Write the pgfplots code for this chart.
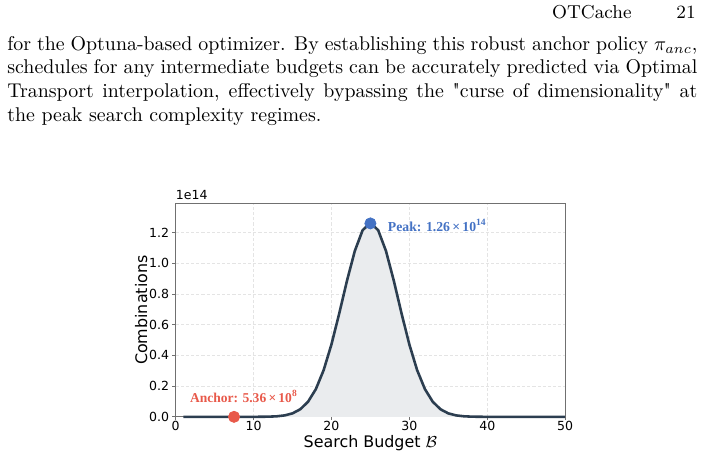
\documentclass[border=0pt]{standalone}
\usepackage{fontspec}
\usepackage{pgfplots}
\usepackage{pgfplotstable}
\pgfplotsset{compat=1.18}
\newfontfamily\dejavu{DejaVu Sans}
\newfontfamily\libserif{Liberation Serif}
% straight double quote, taken as a glyph so the TeX mapping leaves it alone
\newcommand{\sq}{{\XeTeXglyph\XeTeXcharglyph"22\relax}}

\definecolor{curve}{HTML}{2C3E50}
\definecolor{areafill}{HTML}{EAECEE}
\definecolor{peakblue}{HTML}{4472C4}
\definecolor{anchorred}{HTML}{E8594A}
\definecolor{spine}{HTML}{707070}
\definecolor{gridc}{HTML}{E4E4E4}

% number of combinations C(50,B) per search budget B
\pgfplotstableread{
B comb
1 5.0e1
2 1.225e3
3 1.96e4
4 2.303e5
5 2.11876e6
6 1.58907e7
7 9.98844e7
8 5.3687865e8
9 2.5054337e9
10 1.027227817e10
11 3.73537388e10
12 1.213996511e11
13 3.548605186e11
14 9.378456563e11
15 2.25082957512e12
16 4.923689695575e12
17 9.84737939115e12
18 1.8053528883775e13
19 3.04059433832e13
20 4.712921224396e13
21 6.73274460628e13
22 8.87498152646e13
23 1.080432533656e14
24 1.215486600363e14
25 1.26410606437752e14
26 1.215486600363e14
27 1.080432533656e14
28 8.87498152646e13
29 6.73274460628e13
30 4.712921224396e13
31 3.04059433832e13
32 1.8053528883775e13
33 9.84737939115e12
34 4.923689695575e12
35 2.25082957512e12
36 9.378456563e11
37 3.548605186e11
38 1.213996511e11
39 3.73537388e10
40 1.027227817e10
41 2.5054337e9
42 5.3687865e8
43 9.98844e7
44 1.58907e7
45 2.11876e6
46 2.303e5
47 1.96e4
48 1.225e3
49 5.0e1
50 1.0
}\combtable

\begin{document}
\begin{tikzpicture}
\useasboundingbox (0pt,0pt) rectangle (353.5pt,-230.3pt);

% running head
\node[anchor=base east, inner sep=0pt] at (317.8pt,-9.2pt) {\fontsize{9.4}{11}\selectfont OTCache};
\node[anchor=base east, inner sep=0pt] at (350pt,-9.2pt) {\fontsize{9.4}{11}\selectfont 21};

% body paragraph
\node[anchor=base west, inner sep=0pt] at (3.5pt,-25.2pt) {\parbox[t]{347pt}{\noindent
for the Optuna-based optimizer. By establishing this robust anchor policy $\pi_{anc}$,\linebreak
schedules for any intermediate budgets can be accurately predicted via Optimal\linebreak
Transport interpolation, effectively bypassing the \sq curse of dimensionality\sq{} at\linebreak
the peak search complexity regimes.}};

\begin{axis}[
  at={(88.3pt,-209.6pt)}, anchor=south west,
  scale only axis, width=195.9pt, height=107.3pt,
  xmin=0, xmax=50, ymin=0, ymax=1.39e14,
  axis line style={spine, line width=0.6pt},
  tick align=outside, major tick length=1.8pt,
  tick style={spine, line width=0.5pt},
  xtick pos=bottom, ytick pos=left,
  xtick={0,10,20,30,40,50},
  xticklabels={0,10,20,30,40,50},
  ytick={0,2e13,4e13,6e13,8e13,1e14,1.2e14},
  yticklabels={0.0,0.2,0.4,0.6,0.8,1.0,1.2},
  scaled y ticks=false,
  tick label style={font=\dejavu\fontsize{6.3}{7}\selectfont, text=black},
  xticklabel style={yshift=1.0pt, inner sep=1pt},
  yticklabel style={xshift=2.0pt},
  grid=major,
  major grid style={gridc, line width=0.4pt, dash pattern=on 1.6pt off 1pt},
  xlabel={Search Budget $\mathcal{B}$},
  ylabel={Combinations},
  label style={font=\dejavu\fontsize{8}{9.5}\selectfont, inner sep=0.5pt},
  xlabel style={at={(rel axis cs:0.5,-0.123)}, anchor=center},
  ylabel style={at={(rel axis cs:-0.0885,0.5)}, anchor=center},
  clip=false,
]
\addplot[draw=none, fill=areafill] table[x=B, y=comb] {\combtable} \closedcycle;
\addplot[curve, line width=1.3pt] table[x=B, y=comb] {\combtable};

\addplot[only marks, mark=*, mark size=2.8pt, peakblue] coordinates {(25,1.26e14)};
\addplot[only marks, mark=*, mark size=2.8pt, anchorred] coordinates {(7.5,5.36e8)};

\node[anchor=west, inner sep=0pt, text=peakblue, font=\libserif\bfseries\fontsize{6.9}{8}\selectfont]
  at (axis cs:27.2,1.244e14) {Peak: 1.26\,×\,10\textsuperscript{14}};
\node[anchor=west, inner sep=0pt, text=anchorred, font=\libserif\bfseries\fontsize{6.8}{8}\selectfont]
  at (axis cs:1.8,1.3e13) {Anchor: 5.36\,×\,10\textsuperscript{8}};

\node[anchor=south west, inner sep=0pt, font=\dejavu\fontsize{6.3}{7}\selectfont]
  at (rel axis cs:0,1.015) {1e14};
\end{axis}
\end{tikzpicture}
\end{document}
